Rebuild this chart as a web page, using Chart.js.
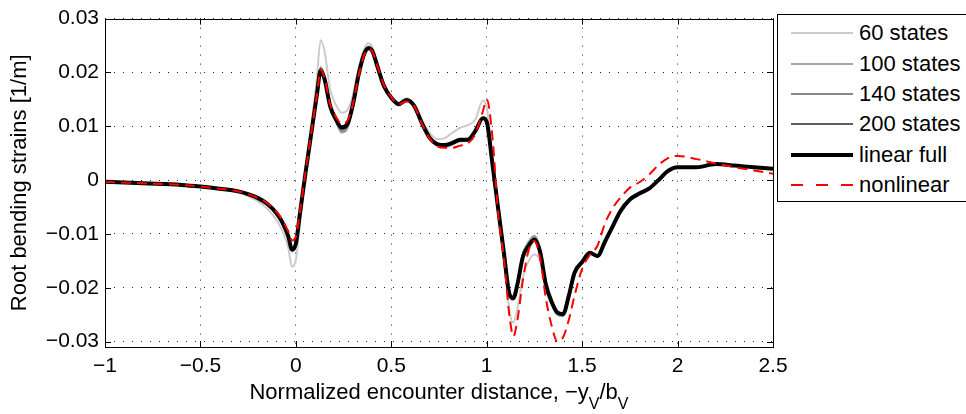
<!DOCTYPE html>
<html>
<head>
<meta charset="utf-8">
<script src="https://cdn.jsdelivr.net/npm/chart.js@4.4.1/dist/chart.umd.min.js"></script>
<style>
	body { margin: 0; background: #fff; overflow: hidden; }
	#wrap { position: relative; width: 966px; height: 414px; overflow: hidden; font-family: "Liberation Sans", Arial, sans-serif; }
	#xtitle { position: absolute; left: 105px; width: 668px; top: 380px; text-align: center; font-size: 22px; line-height: 24px; color: #000; white-space: nowrap; }
	#xtitle sub { font-size: 16px; vertical-align: -10px; line-height: 0; }
	#legend { position: absolute; left: 777px; top: 14px; width: 220px; height: 188px; border: 1px solid #000; background: #fff; padding-top: 3px; box-sizing: border-box; }
	.row { height: 30.4px; position: relative; }
	.sample { position: absolute; left: 13px; width: 62px; top: 50%; }
	.row span { position: absolute; left: 81px; top: 50%; transform: translateY(-50%); font-size: 22px; line-height: 24px; color: #000; }
</style>
</head>
<body>
<div id="wrap">
	<canvas id="myChart" width="966" height="414"></canvas>
	<div id="xtitle">Normalized encounter distance, −y<sub>V</sub>/b<sub>V</sub></div>
	<div id="legend"></div>
</div>

<script>
	// sample positions along the encounter distance
	const xs = [-1, -0.8, -0.6, -0.5, -0.4, -0.3, -0.25, -0.2, -0.15, -0.1,
		-0.07, -0.04, -0.02, 0, 0.02, 0.05, 0.08, 0.11, 0.13, 0.15,
		0.18, 0.21, 0.24, 0.27, 0.3, 0.33, 0.36, 0.38, 0.4, 0.43,
		0.46, 0.5, 0.54, 0.58, 0.62, 0.66, 0.7, 0.74, 0.78, 0.82,
		0.86, 0.9, 0.94, 0.98, 1.0, 1.03, 1.06, 1.09, 1.12, 1.14,
		1.16, 1.19, 1.22, 1.25, 1.28, 1.31, 1.34, 1.37, 1.4, 1.43,
		1.46, 1.5, 1.54, 1.58, 1.62, 1.66, 1.7, 1.75, 1.8, 1.85,
		1.9, 1.95, 2.0, 2.1, 2.2, 2.3, 2.4, 2.5];

	const states60 = [-0.0003, -0.0006, -0.0010, -0.0013, -0.0017, -0.0024, -0.0030, -0.0039, -0.0053, -0.0075,
		-0.0095, -0.0125, -0.0161, -0.0148, -0.0085, 0.0010, 0.0095, 0.0190, 0.0260, 0.0240,
		0.0168, 0.0140, 0.0125, 0.0130, 0.0160, 0.0210, 0.0245, 0.0254, 0.0248, 0.0215,
		0.0180, 0.0156, 0.0145, 0.0152, 0.0140, 0.0112, 0.0088, 0.0076, 0.0078, 0.0088,
		0.0097, 0.0102, 0.0112, 0.0148, 0.0135, 0.0040, -0.0055, -0.0150, -0.0245, -0.0265,
		-0.0240, -0.0180, -0.0150, -0.0138, -0.0150, -0.0200, -0.0232, -0.0250, -0.0252, -0.0218,
		-0.0172, -0.0152, -0.0136, -0.0141, -0.0115, -0.0087, -0.0059, -0.0037, -0.0026, -0.0016,
		0.0000, 0.0017, 0.0023, 0.0023, 0.0029, 0.0027, 0.0024, 0.0021];

	const states100 = [-0.0003, -0.0006, -0.0009, -0.0012, -0.0016, -0.0022, -0.0027, -0.0034, -0.0046, -0.0065,
		-0.0082, -0.0108, -0.0133, -0.0122, -0.0068, 0.0012, 0.0087, 0.0162, 0.0210, 0.0192,
		0.0136, 0.0108, 0.0088, 0.0096, 0.0138, 0.0198, 0.0238, 0.0248, 0.0242, 0.0208,
		0.0175, 0.0151, 0.0139, 0.0148, 0.0137, 0.0105, 0.0077, 0.0064, 0.0062, 0.0066,
		0.0072, 0.0073, 0.0090, 0.0115, 0.0109, 0.0030, -0.0053, -0.0137, -0.0216, -0.0223,
		-0.0192, -0.0136, -0.0114, -0.0103, -0.0128, -0.0192, -0.0228, -0.0250, -0.0253, -0.0217,
		-0.0173, -0.0153, -0.0136, -0.0142, -0.0115, -0.0087, -0.0059, -0.0037, -0.0026, -0.0017,
		-0.0001, 0.0016, 0.0023, 0.0023, 0.0029, 0.0026, 0.0023, 0.0020];

	const states140 = [-0.0003, -0.0006, -0.0009, -0.0012, -0.0016, -0.0021, -0.0026, -0.0034, -0.0045, -0.0063,
		-0.0080, -0.0106, -0.0130, -0.0120, -0.0067, 0.0012, 0.0086, 0.0160, 0.0207, 0.0190,
		0.0135, 0.0109, 0.0091, 0.0099, 0.0140, 0.0198, 0.0237, 0.0247, 0.0241, 0.0208,
		0.0175, 0.0152, 0.0140, 0.0148, 0.0137, 0.0105, 0.0078, 0.0065, 0.0063, 0.0067,
		0.0073, 0.0074, 0.0090, 0.0115, 0.0108, 0.0030, -0.0053, -0.0136, -0.0215, -0.0221,
		-0.0193, -0.0138, -0.0117, -0.0106, -0.0130, -0.0193, -0.0227, -0.0248, -0.0251, -0.0216,
		-0.0172, -0.0152, -0.0135, -0.0141, -0.0114, -0.0086, -0.0058, -0.0036, -0.0025, -0.0016,
		0.0000, 0.0017, 0.0024, 0.0024, 0.0030, 0.0027, 0.0024, 0.0021];

	const states200 = [-0.0003, -0.0006, -0.0009, -0.0012, -0.0016, -0.0021, -0.0026, -0.0033, -0.0044, -0.0062,
		-0.0079, -0.0105, -0.0128, -0.0119, -0.0066, 0.0012, 0.0085, 0.0159, 0.0205, 0.0189,
		0.0136, 0.0111, 0.0095, 0.0102, 0.0141, 0.0198, 0.0236, 0.0246, 0.0240, 0.0208,
		0.0176, 0.0152, 0.0140, 0.0148, 0.0138, 0.0106, 0.0079, 0.0066, 0.0064, 0.0068,
		0.0074, 0.0075, 0.0091, 0.0115, 0.0108, 0.0030, -0.0053, -0.0135, -0.0214, -0.0220,
		-0.0194, -0.0140, -0.0119, -0.0108, -0.0132, -0.0194, -0.0226, -0.0247, -0.0250, -0.0215,
		-0.0172, -0.0152, -0.0135, -0.0141, -0.0114, -0.0086, -0.0058, -0.0036, -0.0025, -0.0016,
		0.0000, 0.0017, 0.0024, 0.0024, 0.0030, 0.0027, 0.0024, 0.0021];

	const linearFull = [-0.0003, -0.0006, -0.0009, -0.0012, -0.0016, -0.0021, -0.0026, -0.0033, -0.0044, -0.0062,
		-0.0079, -0.0104, -0.0129, -0.0118, -0.0066, 0.0012, 0.0085, 0.0158, 0.0204, 0.0188,
		0.0137, 0.0113, 0.0098, 0.0104, 0.0142, 0.0198, 0.0236, 0.0245, 0.0240, 0.0208,
		0.0176, 0.0153, 0.0141, 0.0149, 0.0138, 0.0106, 0.0079, 0.0067, 0.0065, 0.0069,
		0.0075, 0.0075, 0.0091, 0.0115, 0.0108, 0.0030, -0.0053, -0.0135, -0.0213, -0.0219,
		-0.0195, -0.0142, -0.0122, -0.0111, -0.0134, -0.0194, -0.0226, -0.0246, -0.0249, -0.0215,
		-0.0172, -0.0152, -0.0135, -0.0141, -0.0114, -0.0086, -0.0058, -0.0036, -0.0025, -0.0016,
		0.0000, 0.0017, 0.0024, 0.0024, 0.0030, 0.0027, 0.0024, 0.0021];

	const nonlinear = [-0.0003, -0.0006, -0.0009, -0.0012, -0.0016, -0.0021, -0.0026, -0.0033, -0.0043, -0.0060,
		-0.0075, -0.0095, -0.0112, -0.0105, -0.0062, 0.0013, 0.0086, 0.0158, 0.0205, 0.0190,
		0.0140, 0.0117, 0.0105, 0.0110, 0.0143, 0.0196, 0.0234, 0.0243, 0.0239, 0.0209,
		0.0178, 0.0154, 0.0141, 0.0146, 0.0138, 0.0105, 0.0078, 0.0063, 0.0060, 0.0060,
		0.0064, 0.0068, 0.0085, 0.0128, 0.0150, 0.0080, -0.0062, -0.0145, -0.0255, -0.0290,
		-0.0262, -0.0185, -0.0130, -0.0113, -0.0145, -0.0220, -0.0270, -0.0300, -0.0292, -0.0260,
		-0.0215, -0.0165, -0.0139, -0.0122, -0.0080, -0.0052, -0.0033, -0.0014, -0.0004, 0.0010,
		0.0028, 0.0041, 0.0045, 0.0039, 0.0031, 0.0024, 0.0018, 0.0012];

	const xTicks = [-1, -0.5, 0, 0.5, 1, 1.5, 2, 2.5];
	const xTickLabels = ['−1', '−0.5', '0', '0.5', '1', '1.5', '2', '2.5'];
	const yTicks = [-0.03, -0.02, -0.01, 0, 0.01, 0.02, 0.03];
	const yTickLabels = ['−0.03', '−0.02', '−0.01', '0', '0.01', '0.02', '0.03'];

	const seriesNames = ['60 states', '100 states', '140 states', '200 states', 'linear full', 'nonlinear'];
	const seriesValues = [states60, states100, states140, states200, linearFull, nonlinear];
	const seriesColors = ['#cbcbcb', '#a8a8a8', '#888888', '#5e5e5e', '#000000', '#ff0000'];
	const seriesWidths = [2, 2, 2, 2, 4, 2];

	function toPoints(ys) {
		return xs.map((x, i) => ({ x: x, y: ys[i] }));
	}

	const datasets = seriesNames.map((name, i) => ({
		label: name,
		data: toPoints(seriesValues[i]),
		borderColor: seriesColors[i],
		borderWidth: seriesWidths[i],
		borderDash: name === 'nonlinear' ? [10, 6] : [],
		pointRadius: 0,
		cubicInterpolationMode: 'monotone',
		fill: false,
		order: seriesNames.length - i  // later series on top, like matlab
	}));

	// box round the axes and inward tick marks on all four sides
	const boxPlugin = {
		id: 'boxPlugin',
		afterDatasetsDraw(chart) {
			const { ctx, chartArea: a, scales } = chart;
			ctx.save();
			ctx.strokeStyle = '#000';
			ctx.lineWidth = 1;
			ctx.beginPath();
			xTicks.forEach(v => {
				const px = Math.round(scales.x.getPixelForValue(v)) + 0.5;
				ctx.moveTo(px, a.bottom); ctx.lineTo(px, a.bottom - 6);
				ctx.moveTo(px, a.top); ctx.lineTo(px, a.top + 6);
			});
			yTicks.forEach(v => {
				const py = Math.round(scales.y.getPixelForValue(v)) + 0.5;
				ctx.moveTo(a.left, py); ctx.lineTo(a.left + 6, py);
				ctx.moveTo(a.right, py); ctx.lineTo(a.right - 6, py);
			});
			ctx.stroke();
			ctx.strokeRect(Math.round(a.left) + 0.5, Math.round(a.top) + 0.5, Math.round(a.right - a.left), Math.round(a.bottom - a.top));
			ctx.restore();
		}
	};

	const tickFont = { family: '"Liberation Sans", Arial, sans-serif', size: 21 };

	new Chart(document.querySelector('#myChart'), {
		type: 'line',
		data: { datasets: datasets },
		options: {
			responsive: false,
			animation: false,
			layout: { padding: { top: 14, right: 193, left: 0, bottom: 0 } },
			plugins: {
				legend: { display: false },
				tooltip: { enabled: false }
			},
			scales: {
				x: {
					type: 'linear',
					min: -1,
					max: 2.5,
					afterBuildTicks: (scale) => { scale.ticks = xTicks.map(v => ({ value: v })); },
					afterFit: (scale) => { scale.height = 67; },
					ticks: {
						color: '#000',
						font: tickFont,
						padding: 7,
						maxRotation: 0,
						autoSkip: false,
						callback: (v) => xTickLabels[xTicks.indexOf(v)]
					},
					grid: { color: '#222', lineWidth: 1, drawTicks: false },
					border: { display: false, dash: [1, 8] }
				},
				y: {
					min: -0.031,
					max: 0.03,
					afterBuildTicks: (scale) => { scale.ticks = yTicks.map(v => ({ value: v })); },
					afterFit: (scale) => { scale.width = 105; },
					ticks: {
						color: '#000',
						font: tickFont,
						padding: 6,
						autoSkip: false,
						callback: (v) => yTickLabels[yTicks.indexOf(v)]
					},
					grid: { color: '#222', lineWidth: 1, drawTicks: false },
					border: { display: false, dash: [1, 8] },
					title: {
						display: true,
						text: 'Root bending strains [1/m]',
						color: '#000',
						font: { family: '"Liberation Sans", Arial, sans-serif', size: 22 },
						padding: { top: 7, bottom: 0 }
					}
				}
			}
		},
		plugins: [boxPlugin]
	});

	// Legend in a bordered box on the right
	const legend = document.getElementById('legend');
	seriesNames.forEach((name, i) => {
		const row = document.createElement('div');
		row.className = 'row';
		const sample = document.createElement('div');
		sample.className = 'sample';
		sample.style.height = seriesWidths[i] + 'px';
		sample.style.marginTop = (-seriesWidths[i] / 2) + 'px';
		if (name === 'nonlinear') {
			sample.style.background = 'repeating-linear-gradient(to right, ' + seriesColors[i] + ' 0 12px, transparent 12px 25px)';
		} else {
			sample.style.background = seriesColors[i];
		}
		const label = document.createElement('span');
		label.textContent = name;
		row.appendChild(sample);
		row.appendChild(label);
		legend.appendChild(row);
	});
</script>
</body>
</html>
